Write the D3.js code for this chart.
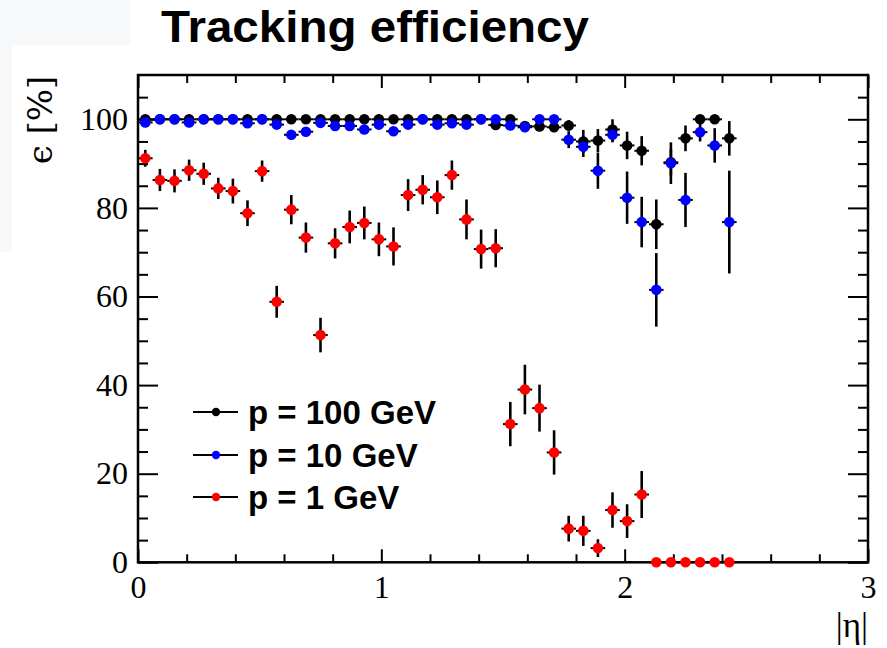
<!DOCTYPE html>
<html><head><meta charset="utf-8">
<script src="https://cdn.jsdelivr.net/npm/d3@7/dist/d3.min.js"></script>
<style>body{margin:0;background:#fff;} svg{display:block;}</style>
</head><body><svg id="c" width="887" height="648"></svg>
<script>
// ---- data ----
const eta = [0.03,0.09,0.15,0.21,0.27,0.33,0.39,0.45,0.51,0.57,0.63,0.69,0.75,0.81,0.87,0.93,0.99,1.05,1.11,1.17,1.23,1.29,1.35,1.41,1.47,1.53,1.59,1.65,1.71,1.77,1.83,1.89,1.95,2.01,2.07,2.13,2.19,2.25,2.31,2.37,2.43];
const binHalfWidth = 0.03;

const eff100 = [100,100,100,100,100,100,100,100,100,100,100,100,100,100,100,100,100,100,100,100,100,100,100,100,98.7,100,98.5,98.4,98.2,98.6,95.0,95.2,97.7,94.1,92.9,76.3,90.3,95.7,100,100,95.7];
const err100 = [0.3,0.3,0.3,0.3,0.3,0.3,0.3,0.3,0.3,0.3,0.3,0.3,0.3,0.3,0.3,0.3,0.3,0.3,0.3,0.3,0.3,0.3,0.3,0.3,0.8,0.3,0.9,0.9,1.0,1.2,2.6,2.6,2.7,3.1,3.3,5.6,3.0,2.9,0.5,0.5,3.9];

const eff10 = [99.3,100,100,99.3,100,100,100,99.1,100,98.8,96.5,97.2,99.2,98.5,98.5,97.7,98.8,97.3,98.8,100,98.8,99.1,98.8,100,100,98.6,98.2,100,100,95.4,93.8,88.4,96.5,82.3,76.8,61.5,90.1,81.8,97.1,94.1,76.8];
const err10 = [0.5,0.3,0.3,0.5,0.3,0.3,0.3,0.6,0.3,0.7,1.0,0.9,0.6,0.8,0.8,0.9,0.7,1.0,0.8,0.3,0.8,0.7,0.8,0.3,0.3,0.9,1.0,0.4,0.4,1.9,2.3,4.1,1.7,5.9,5.7,8.3,4.7,6.1,2.1,3.9,11.6];

const eff1 = [91.2,86.3,86.1,88.5,87.7,84.4,83.8,78.8,88.3,58.8,79.6,73.3,51.3,72.0,75.7,76.6,72.9,71.3,82.9,84.1,82.4,87.4,77.4,70.7,70.9,31.2,39.0,34.8,24.8,7.6,7.1,3.2,11.8,9.3,15.3,0,0,0,0,0,0];
const err1 = [1.9,2.5,2.6,2.4,2.5,2.4,2.8,2.9,2.4,3.6,3.3,3.4,3.9,3.4,3.7,3.7,3.8,4.3,3.6,3.3,3.8,3.3,4.5,4.4,4.3,5.0,5.6,5.3,5.0,2.9,3.4,2.0,4.0,3.8,5.3,0,0,0,0,0,0];

const seriesNames = ["p = 100 GeV","p = 10 GeV","p = 1 GeV"];
const seriesColors = ["#000000","#0000ff","#ff0000"];
const xMajorTicks = [0,1,2,3];
const xMinorTicks = [0.2,0.4,0.6,0.8,1.2,1.4,1.6,1.8,2.2,2.4,2.6,2.8];
const yMajorTicks = [0,20,40,60,80,100];
const yMinorTicks = [5,10,15,25,30,35,45,50,55,65,70,75,85,90,95,105];
const titleText = "Tracking efficiency";
const xTitle = "|η|";
const yTitle = "ϵ [%]";

// ---- layout ----
const svg = d3.select("#c");
const L = 138, R = 868, T = 75, B = 562.3;
const x = d3.scaleLinear().domain([0,3]).range([L,R]);
const y = d3.scaleLinear().domain([0,110]).range([B,T]);

// faint background tint at top-left (from the screenshot)
svg.append("rect").attr("x",0).attr("y",0).attr("width",130).attr("height",45).attr("fill","#f6f8fa");
svg.append("rect").attr("x",0).attr("y",45).attr("width",12).attr("height",207).attr("fill","#f6f8fa");

// title
svg.append("text").attr("x",161).attr("y",42)
  .attr("font-family","Liberation Sans, Arial, sans-serif").attr("font-weight","bold")
  .attr("font-size",45).attr("textLength",428).attr("lengthAdjust","spacingAndGlyphs")
  .attr("fill","#000").text(titleText);

const serif = "Liberation Serif, Times New Roman, serif";

// axes
function styleAxis(g){
  g.select(".domain").remove();
  g.selectAll(".tick line").attr("stroke","#000").attr("stroke-width",2);
  g.selectAll("text").attr("font-family",serif).attr("font-size",32).attr("fill","#000");
}
svg.append("g").attr("transform",`translate(0,${B})`)
  .call(d3.axisBottom(x).tickValues(xMajorTicks).tickSizeInner(-13).tickSizeOuter(0).tickPadding(13).tickFormat(d3.format("d")))
  .call(styleAxis);
svg.append("g").attr("transform",`translate(0,${B})`)
  .call(d3.axisBottom(x).tickValues(xMinorTicks).tickSizeInner(-8).tickSizeOuter(0).tickFormat(""))
  .call(styleAxis);
svg.append("g").attr("transform",`translate(0,${T})`)
  .call(d3.axisTop(x).tickValues(xMajorTicks).tickSizeInner(-13).tickSizeOuter(0).tickFormat(""))
  .call(styleAxis);
svg.append("g").attr("transform",`translate(0,${T})`)
  .call(d3.axisTop(x).tickValues(xMinorTicks).tickSizeInner(-8).tickSizeOuter(0).tickFormat(""))
  .call(styleAxis);
svg.append("g").attr("transform",`translate(${L},0)`)
  .call(d3.axisLeft(y).tickValues(yMajorTicks).tickSizeInner(-20).tickSizeOuter(0).tickPadding(10).tickFormat(d3.format("d")))
  .call(styleAxis);
svg.append("g").attr("transform",`translate(${L},0)`)
  .call(d3.axisLeft(y).tickValues(yMinorTicks).tickSizeInner(-10).tickSizeOuter(0).tickFormat(""))
  .call(styleAxis);
svg.append("g").attr("transform",`translate(${R},0)`)
  .call(d3.axisRight(y).tickValues(yMajorTicks).tickSizeInner(-20).tickSizeOuter(0).tickFormat(""))
  .call(styleAxis);
svg.append("g").attr("transform",`translate(${R},0)`)
  .call(d3.axisRight(y).tickValues(yMinorTicks).tickSizeInner(-10).tickSizeOuter(0).tickFormat(""))
  .call(styleAxis);

// frame
svg.append("rect").attr("x",L).attr("y",T).attr("width",R-L).attr("height",B-T)
  .attr("fill","none").attr("stroke","#000").attr("stroke-width",2.5);

// axis titles
svg.append("text").attr("x",R).attr("y",637).attr("text-anchor","end")
  .attr("font-family",serif).attr("font-size",35).attr("fill","#000").text(xTitle);
svg.append("text").attr("transform",`translate(52,120) rotate(-90)`).attr("text-anchor","middle")
  .attr("font-family","DejaVu Serif, Liberation Serif, serif").attr("font-size",34).attr("fill","#000").text(yTitle);

// data series
const series = [
  {vals: eff100, errs: err100, color: seriesColors[0]},
  {vals: eff10, errs: err10, color: seriesColors[1]},
  {vals: eff1, errs: err1, color: seriesColors[2]}
];
series.forEach(s => {
  const pts = eta.map((e,i) => ({e, v: s.vals[i], err: s.errs[i]}));
  const g = svg.append("g");
  g.selectAll("line.v").data(pts).join("line").attr("class","v")
    .attr("x1",d=>x(d.e)).attr("x2",d=>x(d.e))
    .attr("y1",d=>y(Math.max(0,d.v-d.err))).attr("y2",d=>y(Math.min(100,d.v+d.err)))
    .attr("stroke","#000").attr("stroke-width",2.6);
  g.selectAll("line.h").data(pts).join("line").attr("class","h")
    .attr("x1",d=>x(d.e-binHalfWidth)).attr("x2",d=>x(d.e+binHalfWidth))
    .attr("y1",d=>y(d.v)).attr("y2",d=>y(d.v))
    .attr("stroke","#000").attr("stroke-width",2);
  g.selectAll("circle").data(pts).join("circle")
    .attr("cx",d=>x(d.e)).attr("cy",d=>y(d.v)).attr("r",5.3).attr("fill",s.color);
});

// legend
const legY = [412,455,497];
const lg = svg.append("g");
seriesNames.forEach((name,i) => {
  lg.append("line").attr("x1",193).attr("x2",238).attr("y1",legY[i]).attr("y2",legY[i])
    .attr("stroke","#000").attr("stroke-width",2);
  lg.append("circle").attr("cx",216).attr("cy",legY[i]).attr("r",4.2).attr("fill",seriesColors[i]);
  lg.append("text").attr("x",248).attr("y",legY[i]+12)
    .attr("font-family","Liberation Sans, Arial, sans-serif").attr("font-weight","bold")
    .attr("font-size",33).attr("fill","#000").text(name);
});
</script>
</body></html>
